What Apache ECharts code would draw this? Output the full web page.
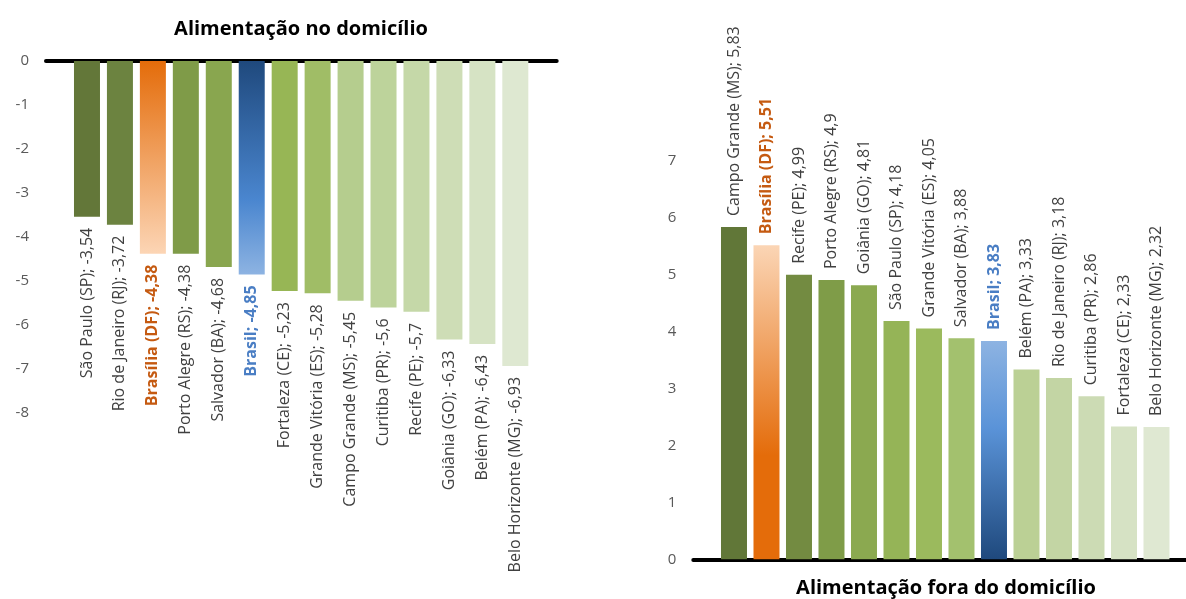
<!DOCTYPE html>
<html>
<head>
<meta charset="utf-8">
<script src="https://cdn.jsdelivr.net/npm/echarts@6/dist/echarts.min.js"></script>
<style>
  html, body { margin: 0; padding: 0; background: #ffffff; }
  #chart { width: 1186px; height: 599px; }
</style>
</head>
<body>
<div id="chart"></div>
<script>
// Variação de preços por região metropolitana (%)
const homeCategories = [
  'São Paulo (SP)', 'Rio de Janeiro (RJ)', 'Brasília (DF)', 'Porto Alegre (RS)',
  'Salvador (BA)', 'Brasil', 'Fortaleza (CE)', 'Grande Vitória (ES)',
  'Campo Grande (MS)', 'Curitiba (PR)', 'Recife (PE)', 'Goiânia (GO)',
  'Belém (PA)', 'Belo Horizonte (MG)'
];
const homeValues = [-3.54, -3.72, -4.38, -4.38, -4.68, -4.85, -5.23, -5.28, -5.45, -5.6, -5.7, -6.33, -6.43, -6.93];

const awayCategories = [
  'Campo Grande (MS)', 'Brasília (DF)', 'Recife (PE)', 'Porto Alegre (RS)',
  'Goiânia (GO)', 'São Paulo (SP)', 'Grande Vitória (ES)', 'Salvador (BA)',
  'Brasil', 'Belém (PA)', 'Rio de Janeiro (RJ)', 'Curitiba (PR)',
  'Fortaleza (CE)', 'Belo Horizonte (MG)'
];
const awayValues = [5.83, 5.51, 4.99, 4.9, 4.81, 4.18, 4.05, 3.88, 3.83, 3.33, 3.18, 2.86, 2.33, 2.32];

const homeAxisRange = [-8, 0];
const awayAxisRange = [0, 7];

// ---- styles ----
const FONT = '"Open Sans", Lato, sans-serif';
const grad = (stops) => new echarts.graphic.LinearGradient(0, 0, 0, 1,
  stops.map(([offset, color]) => ({ offset, color })));

const specialFill = {
  home: {
    'Brasília (DF)': grad([[0, '#E46C0A'], [1, '#FCD5B5']]),
    'Brasil': grad([[0, '#1F497D'], [0.65, '#4A86CF'], [1, '#8DB3E2']])
  },
  away: {
    'Brasília (DF)': grad([[0, '#FBD5B5'], [0.67, '#E46C0A'], [1, '#E46C0A']]),
    'Brasil': grad([[0, '#8DB3E2'], [0.4, '#5A93D8'], [1, '#1F497D']])
  }
};
const homeGreens = ['#637739', '#6C8340', null, '#7F9B48', '#89A64F', null, '#97B655',
  '#A0BD66', '#B5CD8E', '#BDD39B', '#C5D8A8', '#CEDDB6', '#D6E3C4', '#DEE8D1'];
const awayGreens = ['#617738', null, '#738B41', '#7F9C48', '#8BA950', '#95B457', '#9BBA5D',
  '#A3C16E', null, '#BBD095', '#C3D5A4', '#CCDBB4', '#D6E2C4', '#DFE8D2'];

const specialLabel = {
  'Brasília (DF)': { color: '#C55A11', fontWeight: 'bold' },
  'Brasil': { color: '#4A7EC4', fontWeight: 'bold' }
};

const fmt = (v) => String(v).replace('.', ',');

function buildData(cats, vals, greens, fills) {
  return cats.map((name, i) => ({
    name,
    value: [i, vals[i]],
    itemStyle: { color: fills[name] || greens[i] },
    label: specialLabel[name] || {}
  }));
}

const labelBase = {
  show: true,
  rotate: 90,
  verticalAlign: 'middle',
  fontFamily: FONT,
  fontSize: 16,
  color: '#404040',
  formatter: (p) => p.data.name + '; ' + fmt(p.data.value[1])
};

const yAxisBase = {
  type: 'value',
  interval: 1,
  splitLine: { show: false },
  axisLine: { show: false },
  axisTick: { show: false },
  axisLabel: { color: '#595959', fontFamily: FONT, fontSize: 15, margin: 17 }
};

const xAxisBase = {
  type: 'value',
  splitLine: { show: false },
  axisTick: { show: false },
  axisLabel: { show: false },
  axisLine: { show: true, onZero: true, lineStyle: { color: '#000000', width: 4 } }
};

const chart = echarts.init(document.getElementById('chart'), null, { renderer: 'canvas' });

chart.setOption({
  animation: false,
  backgroundColor: '#ffffff',
  title: [
    {
      text: 'Alimentação no domicílio',
      left: 296, top: 14, textAlign: 'center',
      textStyle: { fontFamily: FONT, fontSize: 20, fontWeight: 'bold', color: '#000000' }
    },
    {
      text: 'Alimentação fora do domicílio',
      left: 941, top: 573, textAlign: 'center',
      textStyle: { fontFamily: FONT, fontSize: 20, fontWeight: 'bold', color: '#000000' }
    }
  ],
  grid: [
    { left: 46, top: 61, width: 510.7, height: 352 },
    { left: 693.3, top: 160.3, width: 492.7, height: 399 }
  ],
  xAxis: [
    Object.assign({}, xAxisBase, { gridIndex: 0, min: -1.244, max: 14.256 }),
    Object.assign({}, xAxisBase, { gridIndex: 1, min: -1.252, max: 13.908 })
  ],
  yAxis: [
    Object.assign({}, yAxisBase, { gridIndex: 0, min: homeAxisRange[0], max: homeAxisRange[1] }),
    Object.assign({}, yAxisBase, { gridIndex: 1, min: awayAxisRange[0], max: awayAxisRange[1] })
  ],
  series: [
    {
      name: 'Alimentação no domicílio',
      type: 'bar',
      xAxisIndex: 0, yAxisIndex: 0,
      barWidth: 26,
      data: buildData(homeCategories, homeValues, homeGreens, specialFill.home),
      label: Object.assign({}, labelBase, { position: 'bottom', align: 'right', distance: 11 })
    },
    {
      name: 'Alimentação fora do domicílio',
      type: 'bar',
      xAxisIndex: 1, yAxisIndex: 1,
      barWidth: 26,
      data: buildData(awayCategories, awayValues, awayGreens, specialFill.away),
      label: Object.assign({}, labelBase, { position: 'top', align: 'left', distance: 11 })
    }
  ]
});
</script>
</body>
</html>
